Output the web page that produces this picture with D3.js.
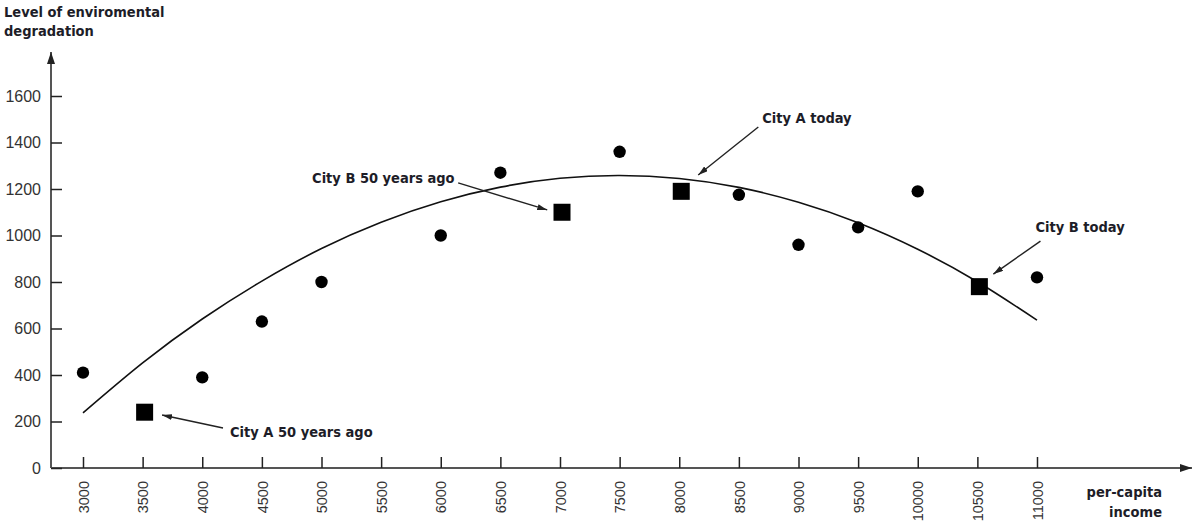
<!DOCTYPE html>
<html>
<head>
<meta charset="utf-8">
<script src="https://cdn.jsdelivr.net/npm/d3@7"></script>
<style>
  body { margin: 0; background: #fff; }
  svg { display: block; }
  .lbl { font-family: "DejaVu Sans Condensed", "DejaVu Sans", sans-serif; font-stretch: condensed; font-weight: bold; fill: #1d1d28; }
  .tick text { font-family: "Liberation Sans", Arial, sans-serif; fill: #333; }
</style>
</head>
<body>
<div id="chart"></div>
<script>
// values
const incomeTicks = [3000, 3500, 4000, 4500, 5000, 5500, 6000, 6500, 7000, 7500, 8000, 8500, 9000, 9500, 10000, 10500, 11000];
const levelTicks = [0, 200, 400, 600, 800, 1000, 1200, 1400, 1600];

const dotIncome = [3000, 4000, 4500, 5000, 6000, 6500, 7500, 8500, 9000, 9500, 10000, 11000];
const dotLevel  = [410, 390, 630, 800, 1000, 1270, 1360, 1175, 960, 1035, 1190, 820];

const cityIncome = [3500, 7000, 8000, 10500];
const cityLevel  = [240, 1100, 1190, 780];

// fitted curve, read at each tick
const curveIncome = incomeTicks;
const curveLevel  = [237, 452, 641, 804, 944, 1057, 1145, 1208, 1246, 1258, 1245, 1207, 1143, 1055, 941, 801, 636];

// annotation: text anchor and arrow ends, in data units
const noteText = ["City A 50 years ago", "City B 50 years ago", "City A today", "City B today"];
const noteAt   = [[4233, 133], [4921, 1226], [8696, 1484], [10987, 1015]];
const noteFrom = [[4174, 172], [6146, 1226], [8663, 1467], [11029, 976]];
const noteTo   = [[3663, 228], [6893, 1110], [8159, 1260], [10634, 834]];

const width = 1195, height = 522;
const axisX = 51, axisY = 468;

const svg = d3.select("#chart").append("svg")
  .attr("width", width)
  .attr("height", height);

const x = d3.scaleLinear().domain([3000, 11000]).range([83, 1037]);
const y = d3.scaleLinear().domain([0, 1600]).range([468, 96]);

const defs = svg.append("defs");
defs.append("marker")
  .attr("id", "head")
  .attr("viewBox", "0 0 10 6")
  .attr("refX", 10).attr("refY", 3)
  .attr("markerWidth", 10).attr("markerHeight", 6)
  .attr("markerUnits", "userSpaceOnUse")
  .attr("orient", "auto")
  .append("path").attr("d", "M0,0 L10,3 L0,6 Z").attr("fill", "#222");
defs.append("marker")
  .attr("id", "axhead")
  .attr("viewBox", "0 0 12 8")
  .attr("refX", 12).attr("refY", 4)
  .attr("markerWidth", 12).attr("markerHeight", 8)
  .attr("markerUnits", "userSpaceOnUse")
  .attr("orient", "auto")
  .append("path").attr("d", "M0,0 L12,4 L0,8 Z").attr("fill", "#222");

// axes lines with arrows
svg.append("line")
  .attr("x1", axisX).attr("y1", axisY).attr("x2", axisX).attr("y2", 52)
  .attr("stroke", "#555").attr("stroke-width", 2)
  .attr("marker-end", "url(#axhead)");
svg.append("line")
  .attr("x1", axisX).attr("y1", axisY).attr("x2", 1192).attr("y2", axisY)
  .attr("stroke", "#555").attr("stroke-width", 2)
  .attr("marker-end", "url(#axhead)");

// y ticks
const gy = svg.append("g")
  .attr("transform", "translate(" + axisX + ",0)")
  .call(d3.axisLeft(y).tickValues(levelTicks).tickSize(-11).tickPadding(10).tickFormat(d => String(d)));
gy.select(".domain").remove();
gy.selectAll(".tick line").attr("stroke", "#222").attr("stroke-width", 1.5);
gy.selectAll(".tick text").style("font-size", "16px");

// x ticks
const gx = svg.append("g")
  .attr("transform", "translate(0," + axisY + ")")
  .call(d3.axisBottom(x).tickValues(incomeTicks).tickSize(-11).tickFormat(d => String(d)));
gx.select(".domain").remove();
gx.selectAll(".tick line").attr("stroke", "#222").attr("stroke-width", 1.5);
gx.selectAll(".tick text")
  .style("font-size", "14.5px")
  .attr("text-anchor", "end")
  .attr("transform", "rotate(-90)")
  .attr("x", -13)
  .attr("y", 0)
  .attr("dy", "0.36em");

// axis titles
const ytitle = svg.append("text").attr("class", "lbl").style("font-size", "14.5px");
ytitle.append("tspan").attr("x", 4).attr("y", 17).text("Level of enviromental");
ytitle.append("tspan").attr("x", 4).attr("y", 36).text("degradation");
const xtitle = svg.append("text").attr("class", "lbl").style("font-size", "14.5px").attr("text-anchor", "end");
xtitle.append("tspan").attr("x", 1162).attr("y", 497).text("per-capita");
xtitle.append("tspan").attr("x", 1162).attr("y", 517).text("income");

// curve
const curvePts = curveIncome.map((d, i) => [x(d), y(curveLevel[i])]);
svg.append("path")
  .attr("d", d3.line().curve(d3.curveNatural)(curvePts))
  .attr("fill", "none")
  .attr("stroke", "#111")
  .attr("stroke-width", 1.6);

// dots
svg.append("g").selectAll("circle")
  .data(dotIncome)
  .join("circle")
  .attr("cx", d => x(d))
  .attr("cy", (d, i) => y(dotLevel[i]))
  .attr("r", 6.2)
  .attr("fill", "#000");

// city squares
const sq = 17;
svg.append("g").selectAll("rect")
  .data(cityIncome)
  .join("rect")
  .attr("x", d => x(d) - sq / 2 + 2)
  .attr("y", (d, i) => y(cityLevel[i]) - sq / 2)
  .attr("width", sq)
  .attr("height", sq)
  .attr("fill", "#000");

// annotations
noteText.forEach((t, i) => {
  svg.append("line")
    .attr("x1", x(noteFrom[i][0])).attr("y1", y(noteFrom[i][1]))
    .attr("x2", x(noteTo[i][0])).attr("y2", y(noteTo[i][1]))
    .attr("stroke", "#222").attr("stroke-width", 1.4)
    .attr("marker-end", "url(#head)");
  svg.append("text")
    .attr("class", "lbl")
    .style("font-size", "14.5px")
    .attr("x", x(noteAt[i][0]))
    .attr("y", y(noteAt[i][1]))
    .text(t);
});
</script>
</body>
</html>
